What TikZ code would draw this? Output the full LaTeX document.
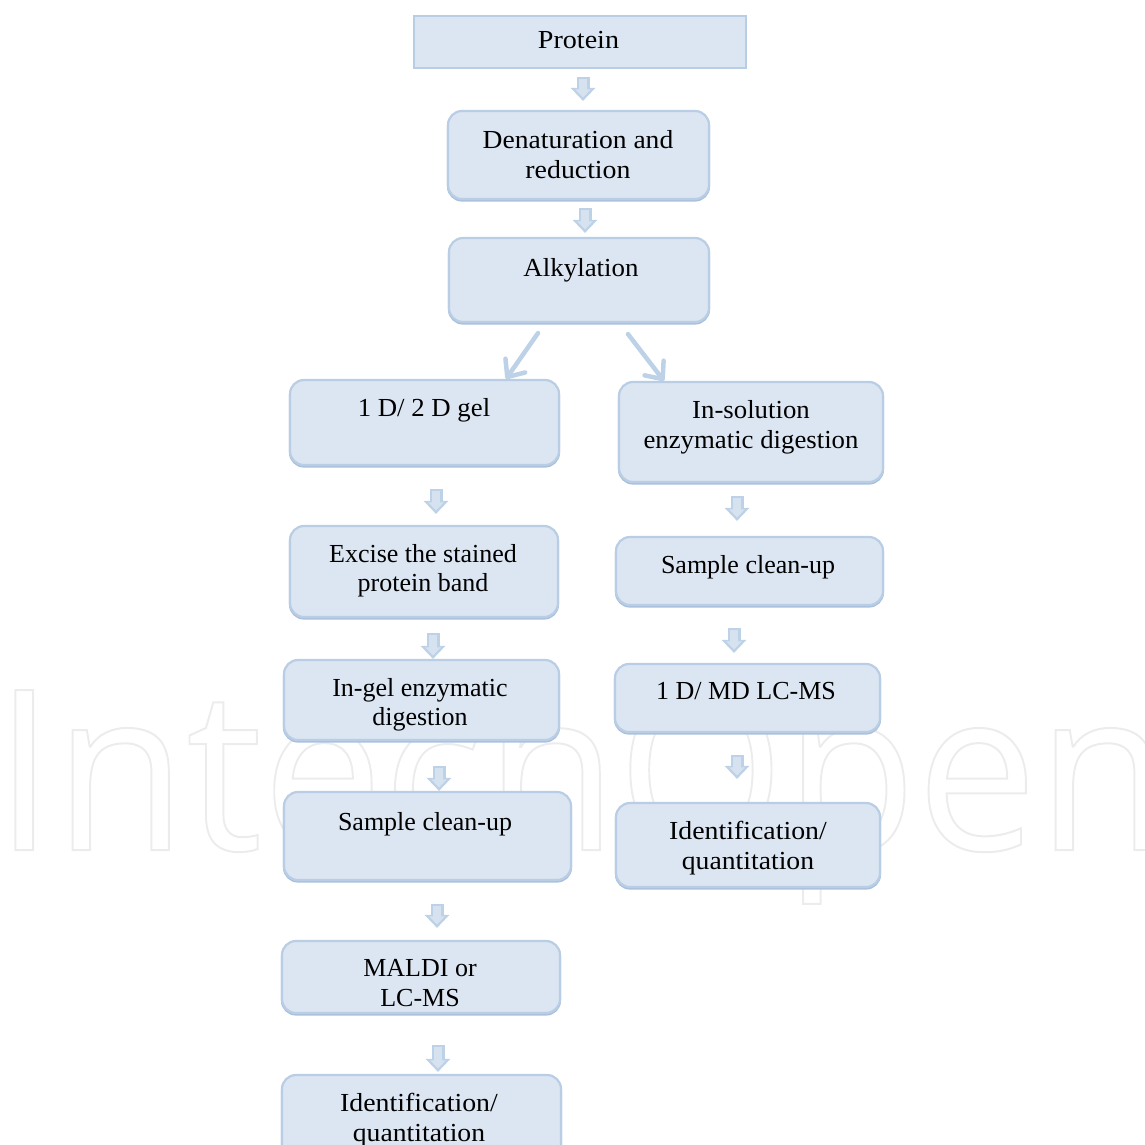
\documentclass[tikz,border=0pt]{standalone}
\usepackage{fontspec}
\setmainfont{Liberation Serif}
\newfontfamily\wmfont{Open Sans}
\usetikzlibrary{arrows.meta,fit,shadows,calc}
\definecolor{boxfill}{HTML}{DCE6F2}
\definecolor{boxedge}{HTML}{B9CDE5}
\definecolor{boxshade}{HTML}{A9C0DC}
\definecolor{arrowedge}{HTML}{BDD1E7}
\definecolor{arrowfill}{HTML}{D6E2F0}
\tikzset{
  x=1pt,y=-1pt,
  boxbase/.style={fill=boxfill,draw=boxedge,line width=2.2pt,inner sep=0pt,
    copy shadow={shadow xshift=0pt,shadow yshift=-1.5pt,fill=boxshade,draw=boxshade}},
  roundbox/.style={boxbase,rounded corners=14pt},
  squarebox/.style={fill=boxfill,draw=boxedge,line width=2.2pt,inner sep=0pt},
  boxtext/.style={align=center,font=\fontsize{26}{29.5}\selectfont,inner sep=0pt,text=black},
  flowouter/.style={draw=arrowedge,line width=13pt,-{Triangle[length=13pt,width=24pt]}},
  flowinner/.style={draw=arrowfill,line width=8pt,-{Triangle[length=8pt,width=15pt]}},
  diag/.style={draw=arrowedge,line width=4.5pt,line cap=round,
    -{Straight Barb[length=14pt,width=24pt,round,line width=4.5pt]}},
}
% block arrow between two boxes at abscissa #3, gaps #4 and #5 from the boxes
\newcommand{\flowarrow}[5]{%
  \coordinate (fx) at (#3,0);
  \draw[flowouter,shorten <=#4pt,shorten >=#5pt] (#1.south -| fx) -- (#2.north -| fx);
  \draw[flowinner,shorten <=#4pt+2pt,shorten >=#5pt+3.5pt] (#1.south -| fx) -- (#2.north -| fx);
}
\newcommand{\labeltext}[4]{\node[boxtext] (#1) at (#2,#3) {#4};}
\newcommand{\wide}[2]{\scalebox{#1}[1]{#2}}
\begin{document}
\begin{tikzpicture}
\useasboundingbox (0,0) rectangle (1145,1145);
\clip (0,0) rectangle (1145,1145);
% watermark
\node[anchor=base west,inner sep=0pt,text=white] (watermark) at (-6,850)
  {\special{pdf:code q 1 Tr 2 w 0.925 0.925 0.925 RG 0.925 0.925 0.925 rg}\scalebox{0.96}[1]{\wmfont\fontsize{224}{224}\selectfont IntechOpen}\special{pdf:code Q}};
% boxes
\node[squarebox,fit={(414,16)(746,68)}] (protein) {};
\node[roundbox,fit={(448,111)(709,199)}] (denat) {};
\node[roundbox,fit={(449,238)(709,322)}] (alkyl) {};
\node[roundbox,fit={(290,380)(559,465)}] (gel) {};
\node[roundbox,fit={(619,382)(883,482)}] (insol) {};
\node[roundbox,fit={(290,526)(558,617)}] (excise) {};
\node[roundbox,fit={(284,660)(559,740)}] (ingel) {};
\node[roundbox,fit={(284,792)(571,880)}] (cleanL) {};
\node[roundbox,fit={(282,941)(560,1013)}] (maldi) {};
\node[roundbox,fit={(282,1075)(561,1175)}] (identL) {};
\node[roundbox,fit={(616,537)(883,605)}] (cleanR) {};
\node[roundbox,fit={(615,664)(880,732)}] (lcms) {};
\node[roundbox,fit={(616,803)(880,887)}] (identR) {};
% texts
\labeltext{tprotein}{578.5}{40.5}{\wide{1.08}{Protein}}
\labeltext{tdenat}{578}{154.5}{\wide{1.06}{Denaturation and}\\\wide{1.07}{reduction}}
\labeltext{talkyl}{581}{270}{\wide{1.035}{Alkylation}}
\labeltext{tgel}{424}{410}{\wide{1.03}{1 D/ 2 D gel}}
\labeltext{tinsol}{751}{427.5}{\wide{1.03}{In-solution}\\\wide{1.03}{enzymatic digestion}}
\labeltext{texcise}{423}{570.5}{Excise the stained\\protein band}
\labeltext{tingel}{420}{705}{In-gel enzymatic\\digestion}
\labeltext{tcleanL}{425}{824}{Sample clean-up}
\labeltext{tmaldi}{420}{983}{MALDI or\\LC-MS}
\labeltext{tidentL}{419}{1120}{\wide{1.07}{Identification/}\\\wide{1.065}{quantitation}}
\labeltext{tcleanR}{748}{567}{Sample clean-up}
\labeltext{tlcms}{746}{691.5}{1 D/ MD LC-MS}
\labeltext{tidentR}{748}{848}{\wide{1.07}{Identification/}\\\wide{1.065}{quantitation}}
% block arrows
\flowarrow{protein}{denat}{583}{8}{9}
\flowarrow{denat}{alkyl}{585}{8}{4}
\flowarrow{gel}{excise}{436}{23}{11}
\flowarrow{excise}{ingel}{433}{15}{0}
\flowarrow{ingel}{cleanL}{439}{25}{0}
\flowarrow{cleanL}{maldi}{437}{23}{12}
\flowarrow{maldi}{identL}{438}{31}{2}
\flowarrow{insol}{cleanR}{737}{13}{15}
\flowarrow{cleanR}{lcms}{734}{22}{10}
\flowarrow{lcms}{identR}{737}{22}{23}
% diagonal arrows
\coordinate (dl1) at (538,332);
\coordinate (dl2) at (506,377);
\coordinate (dr1) at (628,333);
\coordinate (dr2) at (664,379);
\draw[diag] (alkyl.south -| dl1) ++(0,10) -- (dl2 |- gel.north);
\draw[diag] (alkyl.south -| dr1) ++(0,11) -- (dr2 |- insol.north);
\end{tikzpicture}
\end{document}
